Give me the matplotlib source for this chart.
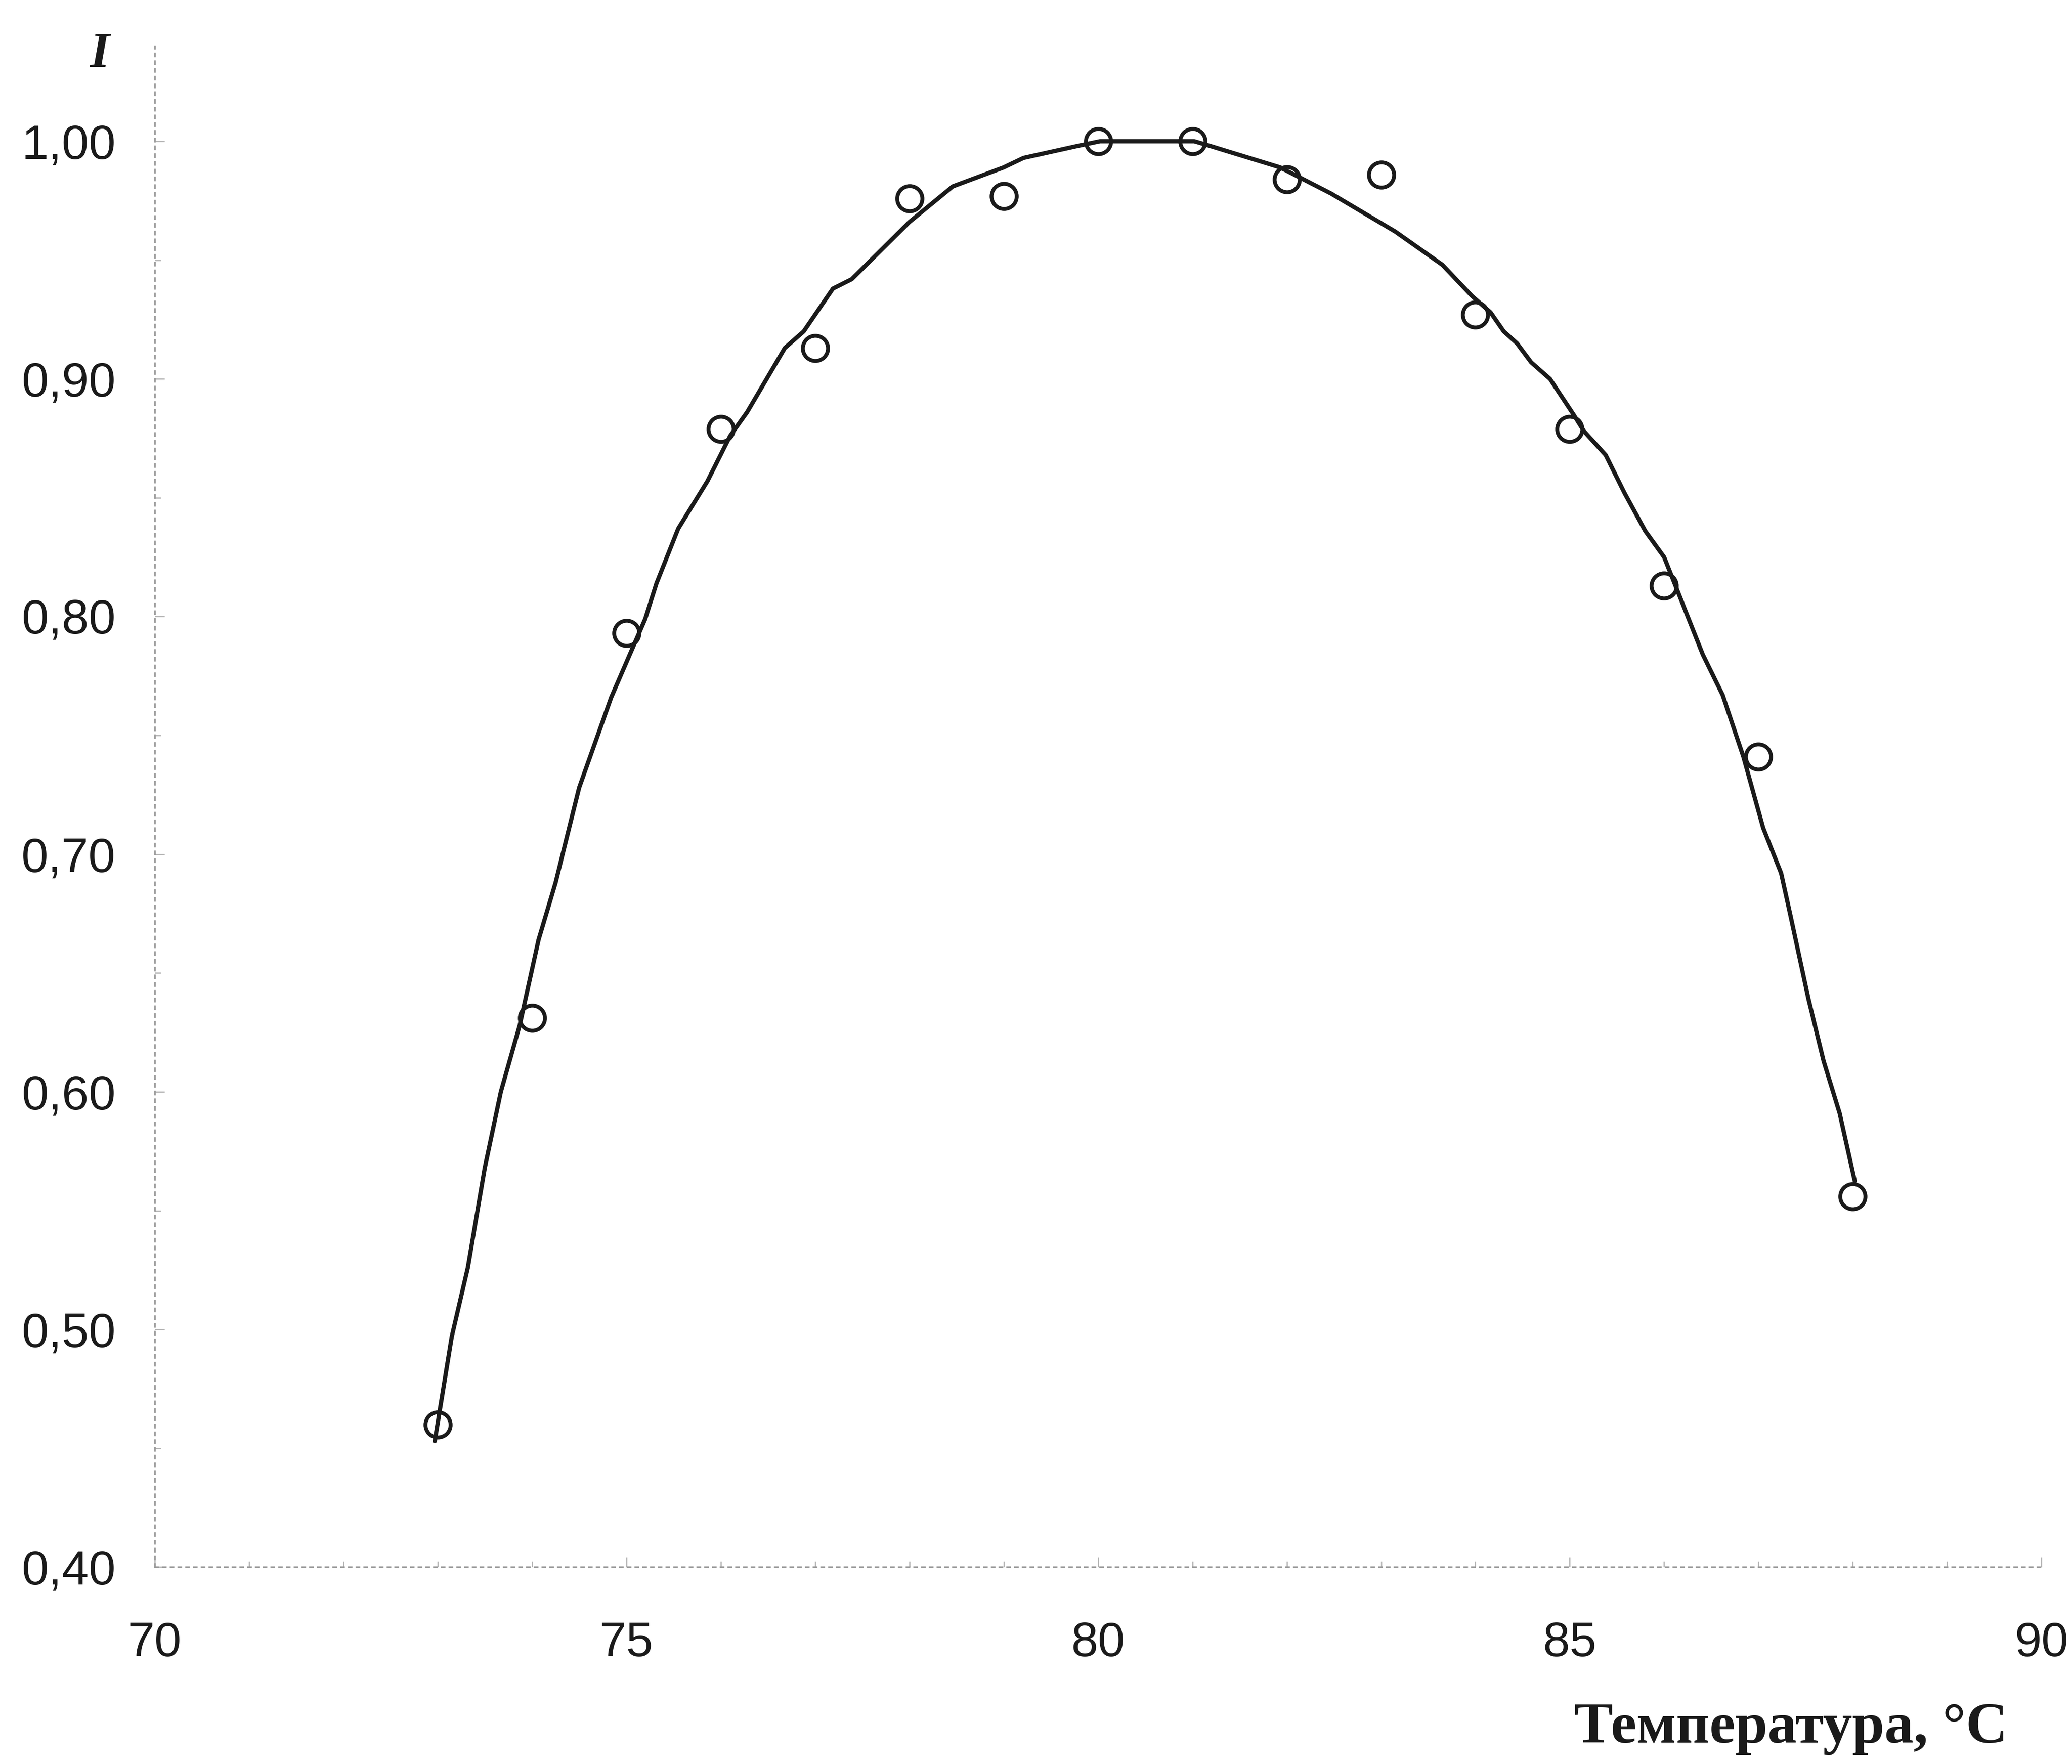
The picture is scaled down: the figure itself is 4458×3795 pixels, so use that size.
import matplotlib.pyplot as plt
from matplotlib.ticker import MultipleLocator, FuncFormatter

# measured points
temp = [73, 74, 75, 76, 77, 78, 79, 80, 81, 82, 83, 84, 85, 86, 87, 88]
intensity = [0.460, 0.631, 0.793, 0.879, 0.913, 0.976, 0.977, 1.000, 1.000,
             0.984, 0.986, 0.927, 0.879, 0.813, 0.741, 0.556]

# hand drawn curve
curve_t = [72.97, 73.15, 73.32, 73.50, 73.67, 73.87, 74.07, 74.25, 74.50, 74.84,
           75.20, 75.32, 75.55, 75.86, 76.10, 76.28, 76.68, 76.88, 77.19, 77.39,
           78.00, 78.46, 79.00, 79.21, 79.78, 80.02, 81.02, 81.19, 81.93, 82.47,
           83.15, 83.65, 83.96, 84.16, 84.30, 84.44, 84.59, 84.79, 85.04, 85.15,
           85.38, 85.58, 85.80, 86.00, 86.14, 86.41, 86.62, 86.84, 87.05, 87.24,
           87.34, 87.53, 87.69, 87.86, 88.02]
curve_i = [0.453, 0.497, 0.526, 0.568, 0.600, 0.628, 0.664, 0.688, 0.728, 0.766,
           0.799, 0.814, 0.837, 0.857, 0.876, 0.886, 0.913, 0.920, 0.938, 0.942,
           0.966, 0.981, 0.989, 0.993, 0.998, 1.000, 1.000, 0.998, 0.989, 0.978,
           0.962, 0.948, 0.935, 0.928, 0.920, 0.915, 0.907, 0.900, 0.885, 0.878,
           0.868, 0.852, 0.836, 0.825, 0.811, 0.784, 0.767, 0.741, 0.711, 0.692,
           0.674, 0.639, 0.613, 0.591, 0.5625]

x_ticks = [70, 75, 80, 85, 90]
y_ticks = [0.40, 0.50, 0.60, 0.70, 0.80, 0.90, 1.00]

fig = plt.figure(figsize=(4458 / 300, 3795 / 300), dpi=300)
ax = fig.add_axes([0.0746, 0.1116, 0.9107, 0.8622])

ax.plot(curve_t, curve_i, color='#1a1a1a', lw=2.2, solid_capstyle='round')
ax.plot(temp, intensity, 'o', mfc='none', mec='#1a1a1a', ms=13, mew=2.0)

ax.set_xlim(70, 90)
ax.set_ylim(0.40, 1.04)
ax.set_xticks(x_ticks)
ax.set_yticks(y_ticks)
ax.xaxis.set_minor_locator(MultipleLocator(1))
ax.yaxis.set_minor_locator(MultipleLocator(0.05))
ax.yaxis.set_major_formatter(FuncFormatter(lambda v, p: f'{v:.2f}'.replace('.', ',')))

for side in ['top', 'right']:
    ax.spines[side].set_visible(False)
for side in ['left', 'bottom']:
    ax.spines[side].set_color('#9a9a9a')
    ax.spines[side].set_linestyle((0, (2, 3)))
    ax.spines[side].set_linewidth(0.8)

ax.tick_params(axis='both', which='both', direction='in', color='#b0b0b0', width=0.6)
ax.tick_params(axis='both', which='major', length=5, labelsize=25, labelcolor='#1a1a1a')
ax.tick_params(axis='both', which='minor', length=3)
ax.tick_params(axis='y', which='major', pad=20)
ax.tick_params(axis='x', which='major', pad=28)
for lab in ax.get_xticklabels() + ax.get_yticklabels():
    lab.set_fontfamily('Liberation Sans')

fig.text(0.048, 0.969, 'I', fontsize=26, fontstyle='italic', fontweight='bold',
         family='Liberation Serif', ha='center', va='center', color='#1a1a1a')
fig.text(0.969, 0.012, 'Температура, °C', fontsize=30, fontweight='bold',
         family='Liberation Serif', ha='right', va='baseline', color='#1a1a1a')

fig.savefig('out.png', dpi=300, facecolor='white')
